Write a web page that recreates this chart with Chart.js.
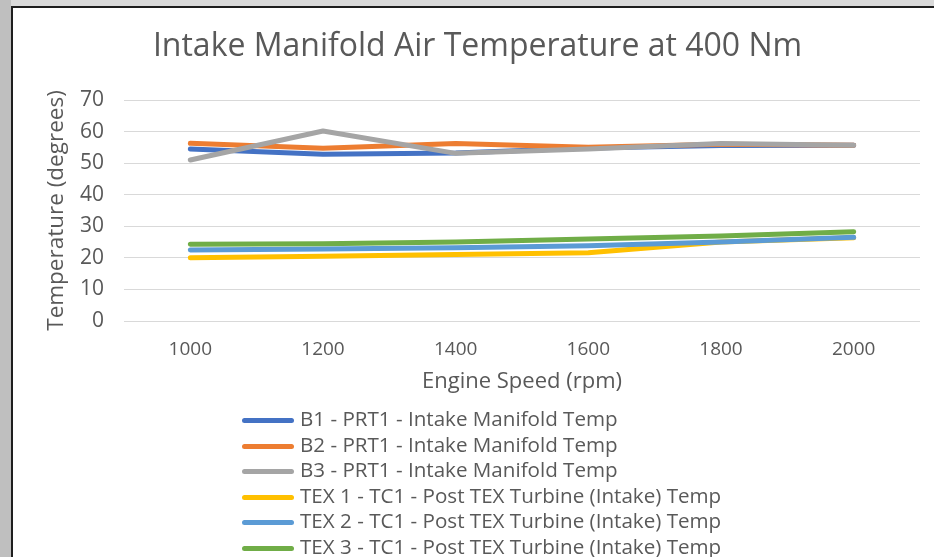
<!DOCTYPE html>
<html>
<head>
<meta charset="utf-8">
<script src="https://cdn.jsdelivr.net/npm/chart.js@4"></script>
<style>
  body { margin: 0; width: 934px; height: 557px; overflow: hidden; background: #d9d9d9; font-family: "Open Sans", sans-serif; }
  #strip { position: absolute; left: 0; top: 0; width: 11px; height: 557px; background: #bfbfbf; }
  #card { position: absolute; left: 11px; top: 6px; width: 921px; height: 549px; background: #fff;
          border-left: 2px solid #1e1e1e; border-top: 2px solid #1e1e1e; overflow: hidden; }
  #wrap { position: absolute; left: 0; top: 0; width: 921px; height: 400px; }
  #legend { position: absolute; left: 229px; top: 398px; color: #595959; font-size: 20.6px; }
  .row { height: 25.6px; line-height: 25.6px; white-space: nowrap; }
  .swatch { display: inline-block; width: 52px; height: 5px; border-radius: 3px; vertical-align: middle; margin-right: 6px; }
</style>
</head>
<body>
<div id="strip"></div>
<div id="card">
  <div id="wrap"><canvas id="chart"></canvas></div>
  <div id="legend"></div>
</div>
<script>
const speeds = ["1000", "1200", "1400", "1600", "1800", "2000"];

const seriesNames = [
    "B1 - PRT1 - Intake Manifold Temp",
    "B2 - PRT1 - Intake Manifold Temp",
    "B3 - PRT1 - Intake Manifold Temp",
    "TEX 1 - TC1 - Post TEX Turbine (Intake) Temp",
    "TEX 2 - TC1 - Post TEX Turbine (Intake) Temp",
    "TEX 3 - TC1 - Post TEX Turbine (Intake) Temp"
];

const b1Temp = [54.5, 52.8, 53.2, 54.8, 55.6, 55.7];
const b2Temp = [56.3, 54.7, 56.2, 55.0, 56.0, 55.7];
const b3Temp = [51.0, 60.2, 53.1, 54.5, 56.2, 55.7];
const tex1Temp = [20.0, 20.5, 21.1, 21.6, 25.0, 26.4];
const tex2Temp = [22.5, 22.8, 23.2, 23.8, 25.0, 26.5];
const tex3Temp = [24.3, 24.5, 25.0, 26.0, 26.9, 28.3];

const colors = ["#4472c4", "#ed7d31", "#a5a5a5", "#ffc000", "#5b9bd5", "#70ad47"];
const allSeries = [b1Temp, b2Temp, b3Temp, tex1Temp, tex2Temp, tex3Temp];

const GREY = "#595959";

let datasets = allSeries.map(function (values, i) {
    return {
        label: seriesNames[i],
        data: values,
        borderColor: colors[i],
        backgroundColor: colors[i],
        borderWidth: 5,
        borderCapStyle: "round",
        borderJoinStyle: "round",
        pointRadius: 0,
        tension: 0,
        fill: false,
        order: allSeries.length - i  // later series drawn on top, like Excel
    };
});

const CHART = document.getElementById("chart").getContext("2d");

let lineChart = new Chart(CHART, {
    type: "line",
    data: { labels: speeds, datasets: datasets },
    options: {
        responsive: true,
        maintainAspectRatio: false,
        animation: false,
        layout: { padding: { left: 22, right: 14, top: 0, bottom: 8.6 } },
        plugins: {
            legend: { display: false },
            tooltip: { enabled: false },
            title: {
                display: true,
                text: "Intake Manifold Air Temperature at 400 Nm",
                color: GREY,
                font: { family: "Open Sans", size: 32, weight: "normal" },
                padding: { top: 20, bottom: 33.6 }
            }
        },
        scales: {
            x: {
                type: "category",
                offset: true,
                grid: { display: false, drawTicks: false },
                border: { display: false },
                ticks: { color: GREY, padding: 17.6, font: { family: "Open Sans", size: 19 } },
                title: {
                    display: true,
                    text: "Engine Speed (rpm)",
                    color: GREY,
                    font: { family: "Open Sans", size: 22 },
                    padding: { top: -10, bottom: 4 }
                }
            },
            y: {
                min: 0,
                max: 70,
                afterFit: function (scale) { scale.width = 89; },
                grid: { color: "#d9d9d9", lineWidth: 1, drawTicks: false },
                border: { display: false },
                ticks: { stepSize: 10, color: GREY, padding: 20, font: { family: "Open Sans", size: 21 } },
                title: {
                    display: true,
                    text: "Temperature (degrees)",
                    color: GREY,
                    font: { family: "Open Sans", size: 22.5 },
                    padding: { top: 8.5, bottom: 0 }
                }
            }
        }
    }
});

// legend as a plain vertical list under the chart
let legendBox = document.getElementById("legend");
datasets.forEach(function (ds) {
    let row = document.createElement("div");
    row.className = "row";
    let sw = document.createElement("span");
    sw.className = "swatch";
    sw.style.background = ds.borderColor;
    row.appendChild(sw);
    row.appendChild(document.createTextNode(ds.label));
    legendBox.appendChild(row);
});
</script>
</body>
</html>
